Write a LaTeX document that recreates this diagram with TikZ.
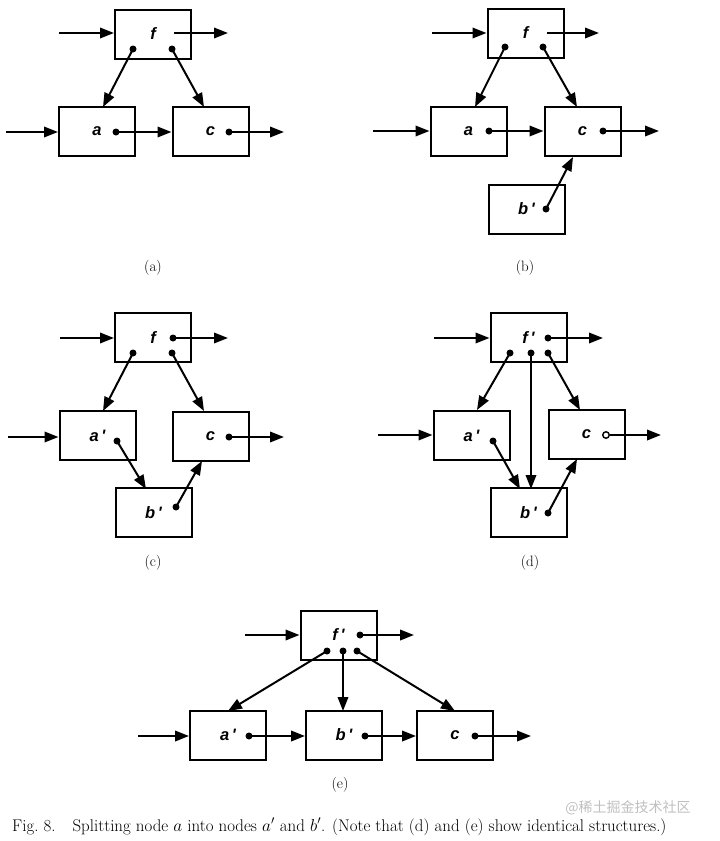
\documentclass[tikz,border=0pt]{standalone}
\usepackage{fontspec}
\newfontfamily\lblfont{Liberation Sans}
\newfontfamily\cjk{Noto Sans CJK SC}
\usetikzlibrary{arrows.meta}
\begin{document}
\begin{tikzpicture}[x=1pt,y=-1pt,
  box/.style={draw, line width=2pt, minimum width=76pt, minimum height=49pt, inner sep=0pt,
    font=\lblfont\bfseries\itshape\fontsize{16.5}{16.5}\selectfont},
  dot/.style={circle, fill, inner sep=0pt, minimum size=7pt},
  odot/.style={circle, draw, fill=white, line width=1.4pt, inner sep=0pt, minimum size=6.5pt},
  arr/.style={line width=2pt, -{Triangle[length=14pt,width=10.5pt]}},
  plabel/.style={font=\fontsize{15}{17}\selectfont},
  ]
\useasboundingbox (0,0) rectangle (720,841);

% ---------------- (a) ----------------
\node[box] (fA) at (153,34) {f};
\node[box] (aA) at (97,131.5) {a};
\node[box] (cA) at (210.5,131.5) {c};
\node[dot] (fA1) at (133,49) {};
\node[dot] (fA2) at (172,49) {};
\node[dot] (aA1) at (116,132) {};
\node[dot] (cA1) at (229,132) {};
\coordinate (inFA) at (59,33);
\coordinate (outFAs) at (174,33);
\coordinate (outFA) at (228,33);
\coordinate (inAA) at (6,132);
\coordinate (outCA) at (284,132);
\coordinate (tAA) at (103,107);
\coordinate (tCA) at (204,107);
\draw[arr] (inFA) -- (inFA -| fA.west);
\draw[arr] (outFAs) -- (outFA);
\draw[arr] (fA1.center) -- (tAA);
\draw[arr] (fA2.center) -- (tCA);
\draw[arr] (inAA) -- (inAA -| aA.west);
\draw[arr] (aA1.center) -- (aA1.center -| cA.west);
\draw[arr] (cA1.center) -- (outCA);
\node[plabel] (labA) at (153,268) {(a)};

% ---------------- (b) ----------------
\node[box] (fB) at (525.5,33) {f};
\node[box] (aB) at (468.5,131.5) {a};
\node[box] (cB) at (582.5,131.5) {c};
\node[box] (bB) at (526.5,209) {\raisebox{-4pt}{b\,'}};
\node[dot] (fB1) at (505,47) {};
\node[dot] (fB2) at (543,47) {};
\node[dot] (aB1) at (489,131) {};
\node[dot] (cB1) at (603,131) {};
\node[dot] (bB1) at (546,209) {};
\coordinate (inFB) at (432,33);
\coordinate (outFBs) at (547,33);
\coordinate (outFB) at (599,33);
\coordinate (inAB) at (373,131);
\coordinate (outCB) at (659,131);
\coordinate (tAB) at (475,107);
\coordinate (tCB) at (577,107);
\coordinate (tCB2) at (573,157);
\draw[arr] (inFB) -- (inFB -| fB.west);
\draw[arr] (outFBs) -- (outFB);
\draw[arr] (fB1.center) -- (tAB);
\draw[arr] (fB2.center) -- (tCB);
\draw[arr] (inAB) -- (inAB -| aB.west);
\draw[arr] (aB1.center) -- (aB1.center -| cB.west);
\draw[arr] (cB1.center) -- (outCB);
\draw[arr] (bB1.center) -- (tCB2);
\node[plabel] (labB) at (525,268) {(b)};

% ---------------- (c) ----------------
\node[box] (fC) at (153,337.5) {f};
\node[box] (aC) at (97.5,435.5) {a\,'};
\node[box] (cC) at (210.5,436) {c};
\node[box] (bC) at (153.5,512.5) {b\,'};
\node[dot] (fC0) at (173,338) {};
\node[dot] (fC1) at (133,353) {};
\node[dot] (fC2) at (172,353) {};
\node[dot] (aC1) at (117,441) {};
\node[dot] (cC1) at (229,437) {};
\node[dot] (bC1) at (176,507) {};
\coordinate (inFC) at (60,338);
\coordinate (outFC) at (228,338);
\coordinate (inAC) at (8,437);
\coordinate (outCC) at (284,437);
\coordinate (tAC) at (103,411);
\coordinate (tCC) at (204,411);
\coordinate (tBC) at (146,489);
\coordinate (tCC2) at (202,461);
\draw[arr] (inFC) -- (inFC -| fC.west);
\draw[arr] (fC0.center) -- (outFC);
\draw[arr] (fC1.center) -- (tAC);
\draw[arr] (fC2.center) -- (tCC);
\draw[arr] (inAC) -- (inAC -| aC.west);
\draw[arr] (aC1.center) -- (tBC);
\draw[arr] (cC1.center) -- (outCC);
\draw[arr] (bC1.center) -- (tCC2);
\node[plabel] (labC) at (153,563) {(c)};

% ---------------- (d) ----------------
\node[box] (fD) at (528.5,337.5) {f\,'};
\node[box] (aD) at (471.5,435.5) {a\,'};
\node[box] (cD) at (586.5,434.5) {c};
\node[box] (bD) at (528.5,512.5) {b\,'};
\node[dot] (fD0) at (548,338) {};
\node[dot] (fD1) at (510,353) {};
\node[dot] (fD2) at (531,353) {};
\node[dot] (fD3) at (548,353) {};
\node[dot] (aD1) at (493,441) {};
\node[odot] (cD1) at (606,435) {};
\node[dot] (bD1) at (548,513) {};
\coordinate (inFD) at (434,338);
\coordinate (outFD) at (603,338);
\coordinate (inAD) at (378,435);
\coordinate (outCD) at (661,435);
\coordinate (tAD) at (477,410);
\coordinate (tBD) at (531,489);
\coordinate (tCD) at (580,410);
\coordinate (tBD2) at (520,489);
\coordinate (tCD2) at (577,459);
\draw[arr] (inFD) -- (inFD -| fD.west);
\draw[arr] (fD0.center) -- (outFD);
\draw[arr] (fD1.center) -- (tAD);
\draw[arr] (fD2.center) -- (tBD);
\draw[arr] (fD3.center) -- (tCD);
\draw[arr] (inAD) -- (inAD -| aD.west);
\draw[arr] (aD1.center) -- (tBD2);
\draw[arr] (cD1.east) -- (outCD);
\draw[arr] (bD1.center) -- (tCD2);
\node[plabel] (labD) at (530,563) {(d)};

% ---------------- (e) ----------------
\node[box] (fE) at (338.5,635) {f\,'};
\node[box] (aE) at (228,735) {a\,'};
\node[box] (bE) at (344,735) {b\,'};
\node[box] (cE) at (455,735) {c};
\node[dot] (fE0) at (360,635) {};
\node[dot] (fE1) at (327,651) {};
\node[dot] (fE2) at (343,651) {};
\node[dot] (fE3) at (357,651) {};
\node[dot] (aE1) at (249,736) {};
\node[dot] (bE1) at (365,736) {};
\node[dot] (cE1) at (475,736) {};
\coordinate (inFE) at (245,635);
\coordinate (outFE) at (414,635);
\coordinate (inAE) at (138,736);
\coordinate (outCE) at (531,736);
\coordinate (tAE) at (228,711);
\coordinate (tBE) at (343,711);
\coordinate (tCE) at (455,711);
\draw[arr] (inFE) -- (inFE -| fE.west);
\draw[arr] (fE0.center) -- (outFE);
\draw[arr] (fE1.center) -- (tAE);
\draw[arr] (fE2.center) -- (tBE);
\draw[arr] (fE3.center) -- (tCE);
\draw[arr] (inAE) -- (inAE -| aE.west);
\draw[arr] (aE1.center) -- (aE1.center -| bE.west);
\draw[arr] (bE1.center) -- (bE1.center -| cE.west);
\draw[arr] (cE1.center) -- (outCE);
\node[plabel] (labE) at (340,785) {(e)};

% ---------------- caption ----------------
\node[anchor=base west, inner sep=0pt, font=\fontsize{16.9}{18}\selectfont] (cap) at (12,831)
  {Fig.~8.\quad Splitting node $a$ into nodes $a'$ and $b'$. (Note that (d) and (e) show identical structures.)};
\node[anchor=center, inner sep=0pt, text=black!25, font=\cjk\fontsize{14}{14}\selectfont] (wm) at (628,808) {@稀土掘金技术社区};
\end{tikzpicture}
\end{document}
